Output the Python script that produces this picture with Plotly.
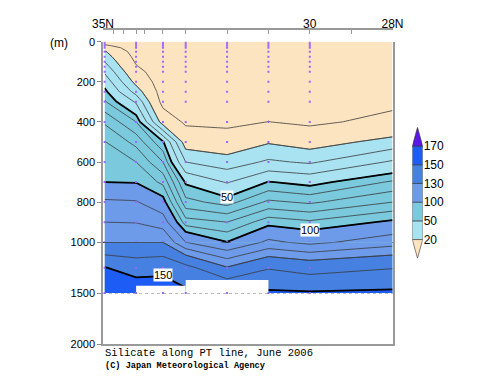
import numpy as np
import plotly.graph_objects as go

# ---------------- data ----------------
# observation stations along the PT line (deg N); section edge at 28N
station_lat = [34.96, 34.2, 33.55, 33.0, 32.0, 31.0, 30.0]
grid_lat = station_lat + [28.0]
# standard depths (m)
depth_m = [0, 10, 20, 30, 50, 75, 100, 125, 150, 200, 250, 300,
           400, 500, 600, 700, 800, 900, 1000, 1250, 1500]

# silicate (umol/kg) profiles, one list per grid latitude
si_34_96 = [6, 8.5, 11.5, 15.4, 21.4, 25.7, 30, 34.3, 38.6, 46.3, 53.7, 61.5,
            78.5, 90.5, 95.2, 100, 111.5, 120, 129.8, 150.3, 157]
si_34_20 = [3, 3.6, 4.2, 4.8, 6.0, 7.5, 9.0, 10.7, 13.1, 17.7, 26.3, 38.8,
            60, 76.7, 90, 99.3, 110.8, 119.6, 129.8, 146.3, 156]
si_33_55 = [2, 2.1, 2.2, 2.3, 2.5, 2.9, 3.3, 3.7, 4.1, 4.9, 5.8, 7.0,
            16.5, 51.7, 70, 87.5, 102.9, 115, 129.8, 148, 154]
si_33_00 = [2, 2.1, 2.2, 2.3, 2.4, 2.6, 2.8, 3.0, 3.3, 3.8, 4.5, 5.3,
            8.5, 16.2, 30, 49, 63.4, 84.4, 110, 143, 152]
si_32_00 = [2.5, 2.6, 2.7, 2.8, 3, 3.2, 3.5, 3.8, 4.1, 4.8, 5.6, 6.4,
            7.8, 14.7, 24.6, 39.2, 55.9, 80, 100.2, 130.5, 152]
si_31_00 = [3, 3.1, 3.2, 3.3, 3.5, 3.8, 4.1, 4.4, 4.8, 5.5, 6.5, 7.6,
            10.1, 19.3, 31.6, 50.7, 72.1, 95.8, 112, 139.3, 151.5]
si_30_00 = [3, 3.1, 3.2, 3.3, 3.5, 3.8, 4.1, 4.4, 4.7, 5.3, 6.1, 7.0,
            8.3, 16.7, 28.6, 47.5, 68.3, 91.8, 107.5, 136, 151]
si_28_00 = [3.5, 3.6, 3.7, 3.8, 4.0, 4.3, 4.6, 5.0, 5.4, 6.3, 7.4, 8.0,
            12.6, 23.8, 41.3, 61.5, 80, 101.3, 115.5, 139.5, 151.8]

# colour classes of the shading
class_bounds = [20, 50, 100, 130, 150, 170]
class_labels = ['20', '50', '100', '130', '150', '170']
class_colors = ['#FDE4C1', '#A9E2F0', '#7BC9DD', '#6D9BEA', '#4680E0', '#1E5CF6', '#5A17E6']

# contour lines
line_levels = [10, 20, 30, 40, 50, 60, 70, 80, 90, 100, 110, 120, 130, 140, 150, 160]
bold_levels = [50, 100, 150]
# labelled contours: (value, lat, depth)
label_value = [50, 100, 150]
label_lat = [32.0, 30.0, 33.55]
label_depth = [775, 941, 1320]

# sea floor shallower than 1500 m between stations
floor_lat_edges = [34.2, 33.0, 31.0]
floor_depth = [1428, 1372]

# axis ticks
depth_ticks_upper = [0, 200, 400, 600, 800, 1000]
depth_ticks_lower = [1500, 2000]
lat_ticks = [35, 34.75, 34.5, 34.2, 34, 33.55, 33, 32, 31, 30, 29, 28]
lat_ticktext = ['35N', '', '', '', '', '', '', '', '', '30', '', '28N']

# ---------------- build ----------------
Z = np.array([si_34_96, si_34_20, si_33_55, si_33_00, si_32_00,
              si_31_00, si_30_00, si_28_00]).T
bounds_full = [0] + class_bounds + [200]
idx_full = list(range(len(bounds_full)))
W = np.interp(Z, bounds_full, idx_full)   # class-index space (20->1 ... 170->6)

ncls = len(class_colors) - 1
colorscale = [[i / ncls, c] for i, c in enumerate(class_colors)]

fig = go.Figure()
panels = [('x', 'y'), ('x2', 'y2')]

for (xa, ya) in panels:
    fig.add_trace(go.Contour(
        x=grid_lat, y=depth_m, z=W, xaxis=xa, yaxis=ya,
        contours=dict(start=1, end=len(class_bounds), size=1, coloring='fill'),
        line=dict(width=0.6, color='#333333', smoothing=0),
        colorscale=colorscale, showscale=False, hoverinfo='skip'))

for (xa, ya) in panels:
    for v in line_levels:
        t = float(np.interp(v, bounds_full, idx_full))
        bold = v in bold_levels
        fig.add_trace(go.Contour(
            x=grid_lat, y=depth_m, z=W, xaxis=xa, yaxis=ya,
            contours=dict(start=t, end=t, size=1, coloring='none'),
            line=dict(width=1.8 if bold else 0.8,
                      color='#000000' if bold else '#3a3a3a', smoothing=0),
            showscale=False, hoverinfo='skip'))

# station sample points
up_x = [la for la in station_lat for d in depth_m if d <= 1000]
up_y = [d for la in station_lat for d in depth_m if d <= 1000]
lo_x = [la for la in station_lat for d in depth_m if d > 1000]
lo_y = [d for la in station_lat for d in depth_m if d > 1000]
dot_style = dict(color='#9966ff', size=2, symbol='square', line=dict(width=0))
fig.add_trace(go.Scatter(x=up_x, y=up_y, mode='markers', marker=dot_style,
                         xaxis='x3', yaxis='y', hoverinfo='skip', showlegend=False))
fig.add_trace(go.Scatter(x=lo_x, y=lo_y, mode='markers', marker=dot_style,
                         xaxis='x2', yaxis='y2', hoverinfo='skip', showlegend=False))

# sea-floor mask
fl_mid = [(a + b) / 2 for a, b in zip(floor_lat_edges[:-1], floor_lat_edges[1:])]
fl_w = [abs(a - b) for a, b in zip(floor_lat_edges[:-1], floor_lat_edges[1:])]
fig.add_trace(go.Bar(x=fl_mid, width=fl_w, base=floor_depth,
                     y=[1500 - d for d in floor_depth],
                     marker=dict(color='white', line=dict(width=0)),
                     xaxis='x2', yaxis='y2', hoverinfo='skip', showlegend=False))

# colour key (boxes for inner classes, triangles for open-ended classes)
nb = len(class_bounds)
fig.add_trace(go.Bar(x=[0] * (nb - 1), base=list(range(1, nb)), y=[1] * (nb - 1), width=1,
                     marker=dict(color=class_colors[1:-1], line=dict(width=0.6, color='#333333')),
                     xaxis='x4', yaxis='y4', hoverinfo='skip', showlegend=False))
fig.add_trace(go.Scatter(x=[-0.5, 0.5, 0, -0.5], y=[nb, nb, nb + 1, nb], mode='lines',
                         fill='toself', fillcolor=class_colors[-1],
                         line=dict(width=0.6, color='#333333'),
                         xaxis='x4', yaxis='y4', hoverinfo='skip', showlegend=False))
fig.add_trace(go.Scatter(x=[-0.5, 0.5, 0, -0.5], y=[1, 1, 0, 1], mode='lines',
                         fill='toself', fillcolor=class_colors[0],
                         line=dict(width=0.6, color='#333333'),
                         xaxis='x4', yaxis='y4', hoverinfo='skip', showlegend=False))

# ---------------- layout ----------------
# the page body adds 8 px around the figure
W_PX, H_PX = 484, 371
L, R, T, B = 95, 40, 21, 35
pw = W_PX - L - R
ph = H_PX - T - B


def py(win_y):
    return (H_PX - B - (win_y - 8)) / ph


def px(win_x):
    return ((win_x - 8) - L) / pw


y_top = py(41.7)
y_mid = py(242.2)
x_right = px(392.5)

tickfont = dict(family='Liberation Sans', size=11, color='black')
xr = [35, 28]
no_am = dict(automargin=False)

annotations = []
for v, la, d in zip(label_value, label_lat, label_depth):
    annotations.append(dict(x=la, y=d, xref='x', yref='y' if d <= 1000 else 'y2',
                            text=str(v), showarrow=False, bgcolor='white',
                            font=dict(family='Liberation Sans', size=11, color='black'),
                            borderpad=0))
annotations += [
    dict(x=px(59), y=py(43), xref='paper', yref='paper', xanchor='center', yanchor='middle',
         text='(m)', showarrow=False,
         font=dict(family='Liberation Sans', size=12, color='black')),
    dict(x=px(102.5), y=py(353), xref='paper', yref='paper', xanchor='left',
         yanchor='middle', text='Silicate along PT line, June 2006', showarrow=False,
         font=dict(family='Liberation Mono', size=10.5, color='black')),
    dict(x=px(102.5), y=py(366), xref='paper', yref='paper', xanchor='left',
         yanchor='middle', text='<b>(C) Japan Meteorological Agency</b>', showarrow=False,
         font=dict(family='Liberation Mono', size=8.6, color='black')),
]

fig.update_layout(
    width=W_PX, height=H_PX, margin=dict(l=L, r=R, t=T, b=B, pad=0, autoexpand=False),
    paper_bgcolor='white', plot_bgcolor='white', showlegend=False, barmode='overlay',
    xaxis=dict(domain=[0, x_right], range=xr, anchor='y', showline=True, linecolor='#333333',
               linewidth=1, ticks='', showticklabels=False, showgrid=False, zeroline=False,
               **no_am),
    xaxis2=dict(domain=[0, x_right], range=xr, anchor='y2', showline=True, linecolor='#999999',
                linewidth=1.5, ticks='', showticklabels=False, showgrid=False, zeroline=False,
                **no_am),
    xaxis3=dict(range=xr, overlaying='x', anchor='free', position=1, side='top',
                tickmode='array', tickvals=lat_ticks, ticktext=lat_ticktext,
                ticks='inside', ticklen=4, tickcolor='#999999', showline=True,
                linecolor='#999999', linewidth=1.5, showgrid=False, zeroline=False,
                ticklabelstandoff=-5,
                tickfont=dict(family='Liberation Sans', size=12, color='black'), **no_am),
    yaxis=dict(domain=[y_mid, y_top], range=[1000, 0], anchor='x', tickmode='array',
               tickvals=depth_ticks_upper, ticktext=[str(v) for v in depth_ticks_upper],
               ticks='outside', ticklen=4, tickcolor='#888888', showline=True, mirror=True,
               linecolor='#999999', linewidth=1.5, showgrid=False, zeroline=False,
               tickfont=tickfont, **no_am),
    yaxis2=dict(domain=[0, y_mid], range=[2000, 1000], anchor='x2', tickmode='array',
                tickvals=depth_ticks_lower, ticktext=[str(v) for v in depth_ticks_lower],
                ticks='outside', ticklen=4, tickcolor='#888888', showline=True, mirror=True,
                linecolor='#999999', linewidth=1.5, showgrid=True, griddash='dot',
                gridcolor='#bbbbbb', gridwidth=1, zeroline=False, tickfont=tickfont, **no_am),
    xaxis4=dict(domain=[px(412.3), px(422.7)], range=[-0.5, 0.5], anchor='y4',
                visible=False, fixedrange=True, **no_am),
    yaxis4=dict(domain=[py(258.3), py(127.3)], range=[0, nb + 1], anchor='x4', side='right',
                tickmode='array', tickvals=list(range(1, nb + 1)), ticktext=class_labels,
                ticks='', showline=False, showgrid=False, zeroline=False,
                tickfont=dict(family='Liberation Sans', size=12, color='black'), **no_am),
    annotations=annotations,
)

fig.write_html("out.html")
